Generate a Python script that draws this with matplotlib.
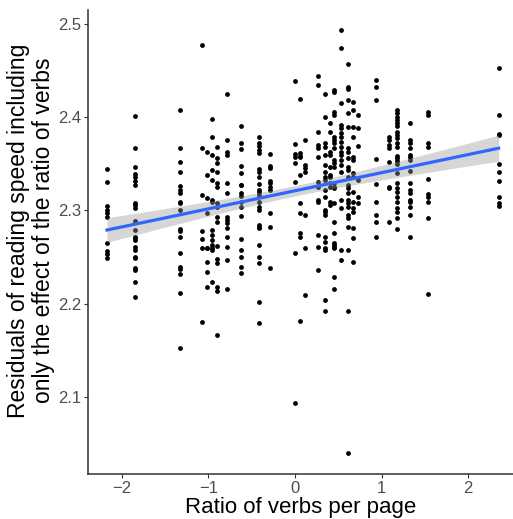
import numpy as np
import matplotlib
matplotlib.use("Agg")
import matplotlib.pyplot as plt

plt.rcParams['font.family'] = ['Liberation Sans', 'DejaVu Sans']

# ratio of verbs (x) for each column of points, and the residuals
ratio_levels = [-2.17, -1.85, -1.33, -1.07, -1.02, -0.96, -0.90, -0.79, -0.62, -0.42,
                -0.29, 0.0, 0.055, 0.115, 0.26, 0.35, 0.40, 0.45, 0.53, 0.61,
                0.67, 0.73, 0.94, 1.09, 1.18, 1.33, 1.54, 2.35]

res_m217 = [2.3445, 2.3306, 2.3048, 2.3005, 2.2973, 2.2930, 2.2651, 2.2566, 2.2534, 2.2491]
res_m185 = [2.4013, 2.3667, 2.347, 2.3391, 2.3362, 2.332, 2.3273, 2.3077, 2.3059, 2.3023,
            2.2887, 2.279, 2.2719, 2.2701, 2.2684, 2.2612, 2.2577, 2.2505, 2.2487, 2.2381,
            2.2363, 2.2237, 2.2069]
res_m133 = [2.4078, 2.3667, 2.3523, 2.341, 2.3266, 2.322, 2.3184, 2.3095, 2.3077, 2.3005,
            2.2798, 2.278, 2.2719, 2.2548, 2.2397, 2.2369, 2.2319, 2.2112, 2.152]
res_m107 = [2.4775, 2.3674, 2.3166, 2.2783, 2.2691, 2.2595, 2.1808]
res_m102 = [2.3631, 2.3381, 2.313, 2.297, 2.2595, 2.2595, 2.2451, 2.2344, 2.2183]
res_m096 = [2.3978, 2.3792, 2.3595, 2.3434, 2.3327, 2.3095, 2.3113, 2.2791, 2.2737, 2.2684,
            2.263, 2.2576, 2.2237, 2.2595]
res_m090 = [2.3684, 2.356, 2.3506, 2.3416, 2.3292, 2.3255, 2.3084, 2.3041, 2.2934, 2.288,
            2.2619, 2.2477, 2.244, 2.2183, 2.214, 2.1665]
res_m079 = [2.4249, 2.3756, 2.363, 2.3595, 2.3298, 2.3184, 2.2934, 2.2898, 2.2863, 2.2809,
            2.2719, 2.2612, 2.2469, 2.2155]
res_m062 = [2.3906, 2.372, 2.3656, 2.348, 2.3399, 2.3273, 2.3273, 2.3184, 2.3159, 2.3095,
            2.3034, 2.2941, 2.2691, 2.2576, 2.2498, 2.2391, 2.2327]
res_m042 = [2.3792, 2.3727, 2.3692, 2.3649, 2.3613, 2.3442, 2.3416, 2.3362, 2.3284, 2.322,
            2.3202, 2.3166, 2.3095, 2.3041, 2.3005, 2.2845, 2.2827, 2.2809, 2.263, 2.2505,
            2.2434, 2.2022, 2.1797]
res_m029 = [2.3603, 2.348, 2.3453, 2.3316, 2.3292, 2.3255, 2.322, 2.2977, 2.2827, 2.238]
res_p000 = [2.4389, 2.3713, 2.3606, 2.3574, 2.3513, 2.3309, 2.2541, 2.0932]
res_p005 = [2.4192, 2.362, 2.3584, 2.357, 2.338, 2.3077, 2.297, 2.2755, 2.2712, 2.1815]
res_p011 = [2.3756, 2.3488, 2.3456, 2.3416, 2.2952, 2.2594, 2.2094]
res_p026 = [2.4442, 2.4346, 2.3845, 2.3702, 2.3667, 2.3577, 2.3309, 2.3255, 2.3113, 2.3095,
            2.2737, 2.2612, 2.2362]
res_p035 = [2.4249, 2.4006, 2.372, 2.3684, 2.3595, 2.3488, 2.3416, 2.3362, 2.3327, 2.322,
            2.3148, 2.3005, 2.2988, 2.2952, 2.2719, 2.2666, 2.2595, 2.2577, 2.204, 2.1925]
res_p040 = [2.3935, 2.3845, 2.363, 2.3595, 2.347, 2.338, 2.3362, 2.3291, 2.3255, 2.3095, 2.3059]
res_p045 = [2.4292, 2.4274, 2.406, 2.4024, 2.3792, 2.3756, 2.372, 2.3667, 2.3542, 2.3506,
            2.347, 2.3291, 2.3255, 2.3238, 2.3077, 2.288, 2.2755, 2.2648, 2.2612, 2.263,
            2.2595, 2.229, 2.2155]
res_p053 = [2.4936, 2.474, 2.415, 2.3917, 2.3881, 2.3828, 2.3785, 2.3738, 2.3684, 2.363,
            2.3595, 2.3542, 2.3488, 2.3416, 2.3113, 2.3023, 2.2577, 2.2469]
res_p061 = [2.4571, 2.4321, 2.4306, 2.4185, 2.4049, 2.3899, 2.3667, 2.363, 2.356, 2.347,
            2.3434, 2.3362, 2.3273, 2.3238, 2.3184, 2.3113, 2.3077, 2.3041, 2.2952, 2.2916,
            2.2827, 2.2577, 2.1922, 2.0396]
res_p067 = [2.4167, 2.4078, 2.3899, 2.3785, 2.3577, 2.3542, 2.3399, 2.3362, 2.3202, 2.3095,
            2.3023, 2.2988, 2.2809, 2.2702, 2.2451]
res_p073 = [2.4024, 2.3881, 2.3692, 2.3327, 2.3148, 2.3084]
res_p094 = [2.44, 2.4328, 2.4185, 2.3549, 2.3284, 2.3095, 2.2952, 2.288, 2.2712]
res_p109 = [2.3792, 2.3756, 2.3702, 2.3667, 2.3523, 2.3255, 2.3238, 2.288]
res_p118 = [2.4078, 2.4042, 2.4006, 2.3971, 2.3935, 2.3906, 2.3845, 2.381, 2.3774, 2.3721,
            2.3684, 2.3584, 2.356, 2.3534, 2.3499, 2.3405, 2.3292, 2.3238, 2.3202, 2.3148,
            2.3094, 2.3024, 2.2987, 2.2916, 2.2798]
res_p133 = [2.3935, 2.3756, 2.3721, 2.3667, 2.3595, 2.357, 2.3542, 2.3427, 2.3298, 2.322,
            2.3191, 2.3113, 2.3094, 2.3041, 2.2952, 2.2719]
res_p154 = [2.406, 2.4024, 2.372, 2.3678, 2.3335, 2.3177, 2.3141, 2.3095, 2.2916, 2.2105]
res_p235 = [2.4531, 2.4024, 2.382, 2.381, 2.3499, 2.3416, 2.332, 2.3141, 2.3084, 2.3048]

columns = [res_m217, res_m185, res_m133, res_m107, res_m102, res_m096, res_m090, res_m079,
           res_m062, res_m042, res_m029, res_p000, res_p005, res_p011, res_p026, res_p035,
           res_p040, res_p045, res_p053, res_p061, res_p067, res_p073, res_p094, res_p109,
           res_p118, res_p133, res_p154, res_p235]

x = np.concatenate([np.full(len(c), lv) for lv, c in zip(ratio_levels, columns)])
y = np.concatenate(columns)

# linear fit with 95% confidence band (like geom_smooth(method="lm"))
n = len(x)
slope, intercept = np.polyfit(x, y, 1)
resid = y - (intercept + slope * x)
s = np.sqrt(np.sum(resid ** 2) / (n - 2))
xbar = x.mean()
sxx = np.sum((x - xbar) ** 2)
xs = np.linspace(x.min(), x.max(), 80)
fit = intercept + slope * xs
se = s * np.sqrt(1 / n + (xs - xbar) ** 2 / sxx)
tcrit = 1.967

fig = plt.figure(figsize=(5.13, 5.19), dpi=100)
ax = fig.add_axes([0.1715, 0.0867, 0.8285, 0.894])

ax.scatter(x, y, s=12, color='black', linewidths=0, zorder=2)
ax.fill_between(xs, fit - tcrit * se, fit + tcrit * se, color='#999999', alpha=0.4,
                linewidth=0, zorder=3)
ax.plot(xs, fit, color='#3366FF', linewidth=2.3, zorder=4)

ax.set_xlim(-2.389, 2.516)
ax.set_ylim(2.0174, 2.515)
ax.set_xticks([-2, -1, 0, 1, 2])
ax.set_yticks([2.1, 2.2, 2.3, 2.4, 2.5])
ax.set_yticklabels(['2.1', '2.2', '2.3', '2.4', '2.5'])

for side in ['top', 'right']:
    ax.spines[side].set_visible(False)
for side in ['left', 'bottom']:
    ax.spines[side].set_color('#333333')
    ax.spines[side].set_linewidth(1.1)

ax.tick_params(axis='both', direction='out', length=3, width=0.8, color='#333333',
               labelcolor='#4D4D4D', labelsize=12, pad=2)

ax.set_xlabel('Ratio of verbs per page', fontsize=16, color='black', labelpad=1)
ax.set_ylabel('Residuals of reading speed including\nonly the effect of the ratio of verbs',
              fontsize=16.5, color='black', linespacing=1.1)
ax.yaxis.set_label_coords(-0.078, 0.525)

fig.savefig('out.png', dpi=100)
